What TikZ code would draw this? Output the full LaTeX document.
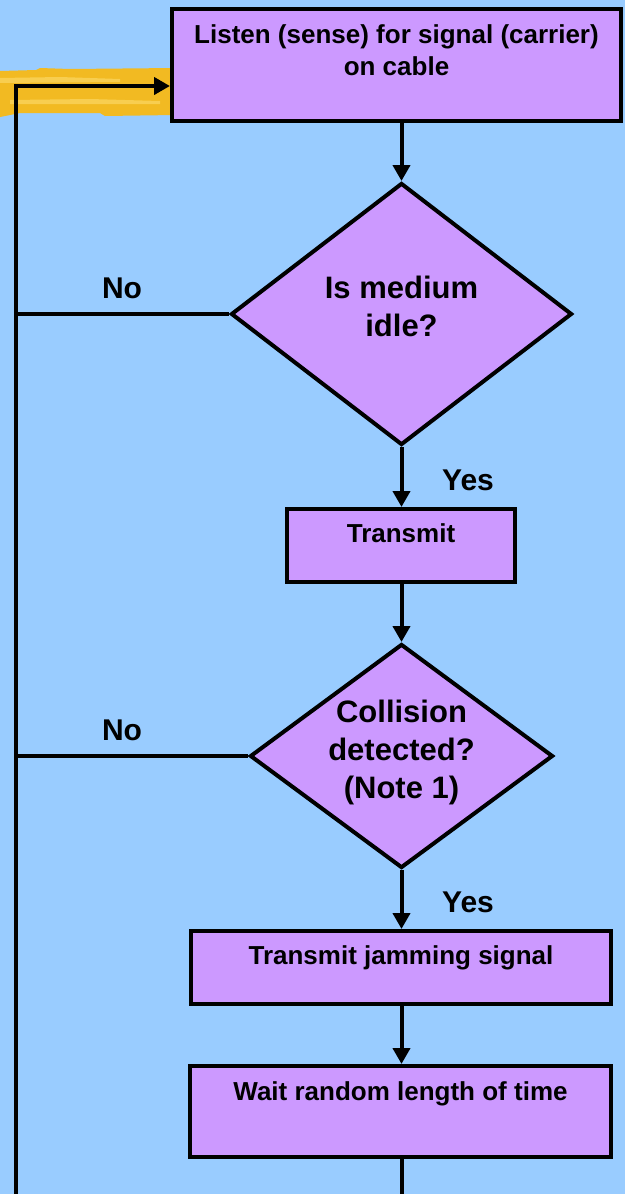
\documentclass[tikz,border=0pt]{standalone}
\usepackage{fontspec}
\setmainfont{Liberation Sans}
\usetikzlibrary{shapes.geometric,arrows.meta}
\definecolor{slidebg}{RGB}{153,204,255}
\definecolor{boxfill}{RGB}{204,153,255}
\definecolor{marker}{RGB}{242,186,34}
\definecolor{markerlight}{RGB}{248,206,80}

\begin{document}
\begin{tikzpicture}[x=1pt,y=-1pt,
    box/.style={draw,fill=boxfill,line width=4pt,inner sep=0pt,align=center,
      font=\bfseries\fontsize{26}{32}\selectfont},
    test/.style={diamond,aspect=1.35,draw,fill=boxfill,line width=4pt,inner sep=-8pt,
      align=center,font=\bfseries\fontsize{31}{38}\selectfont},
    answer/.style={font=\bfseries\fontsize{30}{36}\selectfont}]
  \useasboundingbox (0,0) rectangle (625,1194);
  \fill[slidebg] (0,0) rectangle (625,1194);
  % highlighter stroke behind the loop arrow
  \fill[marker] (0,71) -- (36,70) -- (40,68) -- (70,69) -- (175,68) -- (175,115)
    -- (105,116) -- (100,113) -- (20,113) -- (0,117) -- cycle;
  \fill[markerlight] (0,78) -- (60,77) -- (120,79) -- (120,82) -- (0,83) -- cycle;
  \fill[markerlight] (10,100) -- (90,99) -- (160,101) -- (160,104) -- (10,104) -- cycle;
  \draw
    (396.5,65) node[box,minimum width=449pt,text height=66pt,text depth=46pt] (listen){Listen (sense) for signal (carrier)\\on cable}
    (401.5,314) node[test,minimum width=341pt,minimum height=262pt,text height=60pt,text depth=16pt] (idle){Is medium\\idle?}
    (401,545.5) node[box,minimum width=228pt,text height=33pt,text depth=40pt] (send){Transmit}
    (401.5,756) node[test,minimum width=303pt,minimum height=224pt,text height=98pt,text depth=14pt] (collide){Collision\\detected?\\(Note 1)}
    (401,967.5) node[box,minimum width=420pt,text height=33pt,text depth=40pt] (jam){Transmit jamming signal}
    (400.5,1111.5) node[box,minimum width=421pt,text height=34pt,text depth=57pt] (wait){Wait random length of time};
  \node[answer] (no1) at (122,288) {No};
  \node[answer] (no2) at (122,730) {No};
  \node[answer] (yes1) at (468,480) {Yes};
  \node[answer] (yes2) at (468,902) {Yes};
  \coordinate (loopbot) at (16,1194);
  \coordinate (loopin) at (listen.west |- 0,86);
  \begin{scope}[line width=4pt,-{Triangle[length=16pt,width=17pt]}]
    \draw (idle.north |- listen.south) -- (idle.north);
    \draw (idle.south) -- (send.north -| idle.south);
    \draw (send.south -| idle.south) -- (collide.north);
    \draw (collide.south) -- (jam.north -| collide.south);
    \draw (jam.south -| collide.south) -- (wait.north -| collide.south);
    \draw (loopbot) |- (loopin);
    \draw[-] (idle.west) -- (idle.west -| loopbot);
    \draw[-] (collide.west) -- (collide.west -| loopbot);
    \draw[-] (wait.south -| collide.south) -- (loopbot -| collide.south);
  \end{scope}
\end{tikzpicture}
\end{document}
